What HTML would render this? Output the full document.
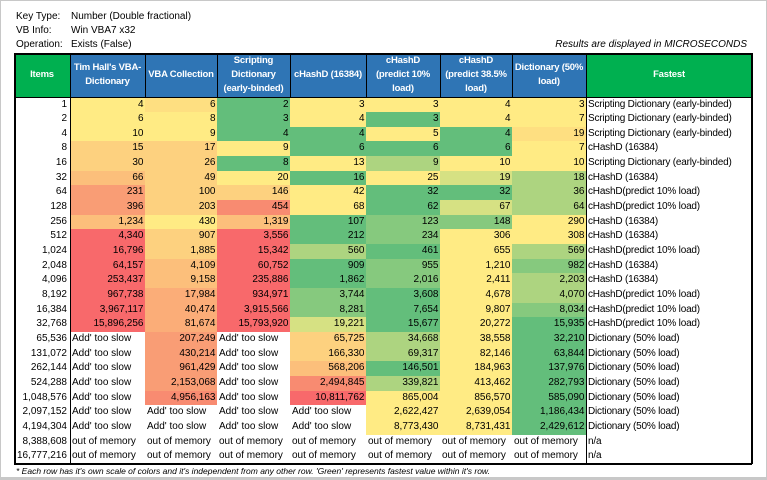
<!DOCTYPE html>
<html><head><meta charset="utf-8">
<style>
body{margin:0;background:#fff;}
#frame{position:relative;width:767px;height:480px;overflow:hidden;background:#fff;font-family:"Liberation Sans",sans-serif;font-size:10px;color:#000;}
.c{position:absolute;box-sizing:border-box;white-space:nowrap;overflow:hidden;line-height:14.66px;}
.t{position:absolute;white-space:nowrap;}
.h{position:absolute;box-sizing:border-box;color:#fff;font-weight:bold;font-size:9.5px;display:flex;align-items:center;justify-content:center;text-align:center;line-height:14px;letter-spacing:-0.2px;}
</style></head><body>
<div id="frame">
<div class="t" style="left:0;top:0;width:765px;height:476px;border:1px solid #c8c8c8;border-bottom:3px solid #c8c8c8;"></div>
<div class="t" style="left:16px;top:11px">Key Type:</div>
<div class="t" style="left:71px;top:11px">Number (Double fractional)</div>
<div class="t" style="left:16px;top:25px">VB Info:</div>
<div class="t" style="left:71px;top:25px">Win VBA7 x32</div>
<div class="t" style="left:16px;top:39px">Operation:</div>
<div class="t" style="left:71px;top:39px">Exists (False)</div>
<div class="t" style="right:20px;top:39px;font-style:italic">Results are displayed in MICROSECONDS</div>
<div id="tbl"></div>
<div class="t" style="left:16px;top:466px;font-style:italic;font-size:8.5px">* Each row has it's own scale of colors and it's independent from any other row. 'Green' represents fastest value within it's row.</div>
</div>
<script>
const headers=["Items","Tim Hall's VBA-<br>Dictionary","VBA Collection","Scripting<br>Dictionary<br>(early-binded)","cHashD (16384)","cHashD<br>(predict 10%<br>load)","cHashD<br>(predict 38.5%<br>load)","Dictionary (50%<br>load)","Fastest"];
const items=["1","2","4","8","16","32","64","128","256","512","1,024","2,048","4,096","8,192","16,384","32,768","65,536","131,072","262,144","524,288","1,048,576","2,097,152","4,194,304","8,388,608","16,777,216"];
const S="Add' too slow",M="out of memory";
const values=[
["4","6","2","3","3","4","3"],
["6","8","3","4","3","4","7"],
["10","9","4","4","5","4","19"],
["15","17","9","6","6","6","7"],
["30","26","8","13","9","10","10"],
["66","49","20","16","25","19","18"],
["231","100","146","42","32","32","36"],
["396","203","454","68","62","67","64"],
["1,234","430","1,319","107","123","148","290"],
["4,340","907","3,556","212","234","306","308"],
["16,796","1,885","15,342","560","461","655","569"],
["64,157","4,109","60,752","909","955","1,210","982"],
["253,437","9,158","235,886","1,862","2,016","2,411","2,203"],
["967,738","17,984","934,971","3,744","3,608","4,678","4,070"],
["3,967,117","40,474","3,915,566","8,281","7,654","9,807","8,034"],
["15,896,256","81,674","15,793,920","19,221","15,677","20,272","15,935"],
[S,"207,249",S,"65,725","34,668","38,558","32,210"],
[S,"430,214",S,"166,330","69,317","82,146","63,844"],
[S,"961,429",S,"568,206","146,501","184,963","137,976"],
[S,"2,153,068",S,"2,494,845","339,821","413,462","282,793"],
[S,"4,956,163",S,"10,811,762","865,004","856,570","585,090"],
[S,S,S,S,"2,622,427","2,639,054","1,186,434"],
[S,S,S,S,"8,773,430","8,731,431","2,429,612"],
[M,M,M,M,M,M,M],[M,M,M,M,M,M,M]];
const fastest=["Scripting Dictionary (early-binded)","Scripting Dictionary (early-binded)","Scripting Dictionary (early-binded)","cHashD (16384)","Scripting Dictionary (early-binded)","cHashD (16384)","cHashD(predict 10% load)","cHashD(predict 10% load)","cHashD (16384)","cHashD (16384)","cHashD(predict 10% load)","cHashD (16384)","cHashD (16384)","cHashD(predict 10% load)","cHashD(predict 10% load)","cHashD(predict 10% load)","Dictionary (50% load)","Dictionary (50% load)","Dictionary (50% load)","Dictionary (50% load)","Dictionary (50% load)","Dictionary (50% load)","Dictionary (50% load)","n/a","n/a"];
const shade=[
"YoGYYYY","YYGYGYY","YYGGYGo","ppYGGGY","ppGYlYY","qpYGYkl","sppYGGl","sptYGkl","qYqGmmY","RpRGmYY","RpRlGYl","RqRGmYm","RqRGmYl","RrRmGYl","RrRmGYm","RrRkGYG",
"WsWplYG","WsWplYG","WsWqGYG","WsWtlYG","WtWRYYG","WWWWYYG","WWWWYYG","WWWWWWW","WWWWWWW"];
const pal={G:"#63BE7B",m:"#86C97E",l:"#ADD480",k:"#D6E183",Y:"#FFEB84",o:"#FEDF81",p:"#FDD17F",q:"#FCBF7B",r:"#FBAD78",s:"#F99D75",t:"#F88B71",R:"#F8696B",W:"#FFFFFF"};
const cx=[14,70,145,217,290,366,440,512,586,752];
const top0=53,hy=97.5,rh=14.66;
const tbl=document.getElementById('tbl');
function add(cls,x,y,w,h,html,css){const d=document.createElement('div');d.className=cls;d.style.cssText=`left:${x}px;top:${y}px;width:${w}px;height:${h}px;`+(css||'');d.innerHTML=html;tbl.appendChild(d);return d;}
headers.forEach((t,i)=>{
 const bg=(i==0||i==8)?"#00B050":"#2F75B5";
 const d=add('h',cx[i],top0,cx[i+1]-cx[i],hy-top0,t,`background:${bg};`);
 
 
});
items.forEach((it,r)=>{
 const y=hy+r*rh;
 const a=add('c',cx[0],y,cx[1]-cx[0],rh+0.5,it,'text-align:right;padding-right:3px;');
 
 
 values[r].forEach((v,c)=>{
  const num=/^[\d,]+$/.test(v);
  const bg=pal[shade[r][c]];
  const d=add('c',cx[c+1],y,cx[c+2]-cx[c+1]+0.5,rh+0.5,v,`background:${bg};text-align:${num?'right':'left'};padding:0 2px;`);
  
  
 });
 const f=add('c',cx[8],y,cx[9]-cx[8],rh+0.5,fastest[r],'padding-left:2px;letter-spacing:-0.2px;');
 
 
});
const bottom=hy+items.length*rh;
const lines=[[cx[0],top0,cx[9]-cx[0],1.5],[cx[0],hy-1,cx[9]-cx[0],1.5],[cx[0],bottom-1,cx[9]-cx[0],1.5],
[cx[0],top0,1.5,bottom-top0],[cx[1]-0.5,top0,1.5,bottom-top0],[cx[8]-0.5,top0,1.5,bottom-top0],[cx[9]-1,top0,1.5,bottom-top0]];
lines.forEach(l=>{const d=add('c',l[0],l[1],l[2],l[3],'','background:#000;');
 
 });
for(let i=2;i<8;i++){const d=add('c',cx[i],top0,1,hy-top0,'','background:#000;');
 
 }
</script>
</body></html>
